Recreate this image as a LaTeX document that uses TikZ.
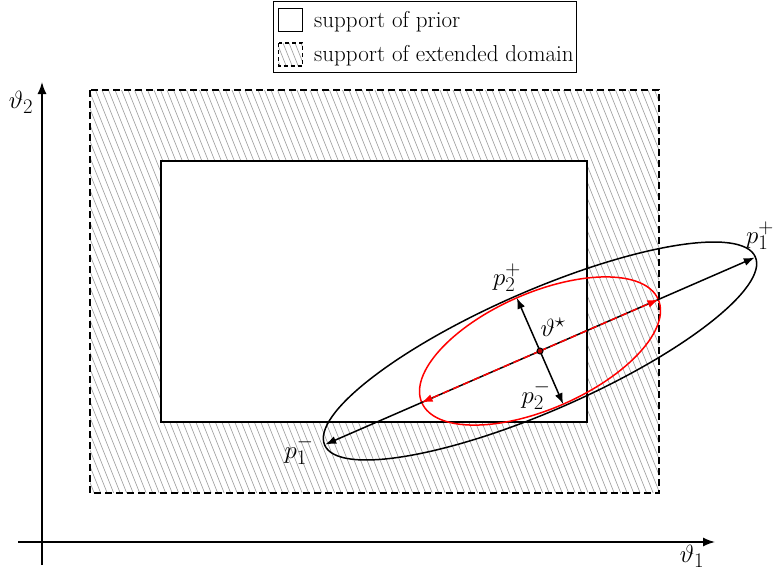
\documentclass[tikz,border=0pt]{standalone}
\usetikzlibrary{arrows.meta}
\begin{document}
\begin{tikzpicture}[x=1pt,y=-1pt,
  thick line/.style={line width=1.5pt},
  hatch/.style={gray!80,line width=0.6pt},
  tip/.style={-{Latex[length=11pt,width=8pt]}},
  lbl/.style={font=\fontsize{28.5}{33}\selectfont,inner sep=0pt},
  legtxt/.style={font=\fontsize{23}{27}\selectfont,inner sep=0pt,anchor=base west}]
\useasboundingbox (0,0) rectangle (774,573);
% extended domain (hatched, dashed)
\begin{scope}
  \clip (90,90) rectangle (659,493);
  \foreach \x in {-80,-73.5,...,665} \draw[hatch] (\x,90) -- ++(161.2,403);
\end{scope}
\draw[thick line,dash pattern=on 7pt off 4pt] (90,90) rectangle (659,493);
% prior support
\draw[thick line,fill=white] (161,161) rectangle (587,422);
% axes
\coordinate (xs) at (18,542); \coordinate (xe) at (715,542);
\coordinate (ys) at (42,565); \coordinate (ye) at (42,82);
\draw[thick line,-{Latex[length=12pt,width=9pt]}] (xs) -- (xe);
\draw[thick line,-{Latex[length=12pt,width=9pt]}] (ys) -- (ye);
\node[lbl] (t1) at (692,556) {$\vartheta_1$};
\node[lbl] (t2) at (21,102) {$\vartheta_2$};
% ellipses
\coordinate (c) at (540,351);
\coordinate (p1p) at (754.8,257.5);
\coordinate (p1m) at (325.2,444.5);
\coordinate (r1p) at (658.4,299.5);
\coordinate (r1m) at (421.6,402.5);
\coordinate (p2p) at (516.8,297.8);
\coordinate (p2m) at (563.2,404.2);
\begin{scope}[shift={(c)},rotate=23.6]
  \draw[thick line] (0,0) ellipse [x radius=235pt,y radius=60pt];
  \draw[thick line,red] (0,0) ellipse [x radius=129pt,y radius=58pt];
\end{scope}
\draw[thick line,tip] (c) -- (p1p);
\draw[thick line,tip] (c) -- (p1m);
\draw[thick line,red,dash pattern=on 7pt off 4pt,-{Latex[length=11pt,width=8pt,red]}] (c) -- (r1p);
\draw[thick line,red,dash pattern=on 7pt off 4pt,-{Latex[length=11pt,width=8pt,red]}] (c) -- (r1m);
\draw[thick line,tip] (c) -- (p2p);
\draw[thick line,tip] (c) -- (p2m);
\draw[line width=1pt,fill=red!70!black] (c) circle (3pt);
\node[lbl] (lp1p) at (760,236) {$p_1^+$};
\node[lbl] (lp1m) at (299,450) {$p_1^-$};
\node[lbl] (lp2p) at (507,278) {$p_2^+$};
\node[lbl] (lp2m) at (536,395) {$p_2^-$};
\node[lbl] (ls) at (553,327) {$\vartheta^\star$};
% legend
\draw[line width=0.8pt,fill=white] (273.5,1) rectangle (576.5,72);
\draw[thick line] (278.5,8.5) rectangle (302.5,31.5);
\begin{scope}
  \clip (278.5,43) rectangle (302.5,66);
  \foreach \x in {265,271,...,305} \draw[hatch] (\x,43) -- ++(9.2,23);
\end{scope}
\draw[thick line,dash pattern=on 4pt off 3pt] (278.5,43) rectangle (302.5,66);
\node[legtxt] (l1) at (314,27) {support of prior};
\node[legtxt] (l2) at (314,61) {support of extended domain};
\end{tikzpicture}
\end{document}
